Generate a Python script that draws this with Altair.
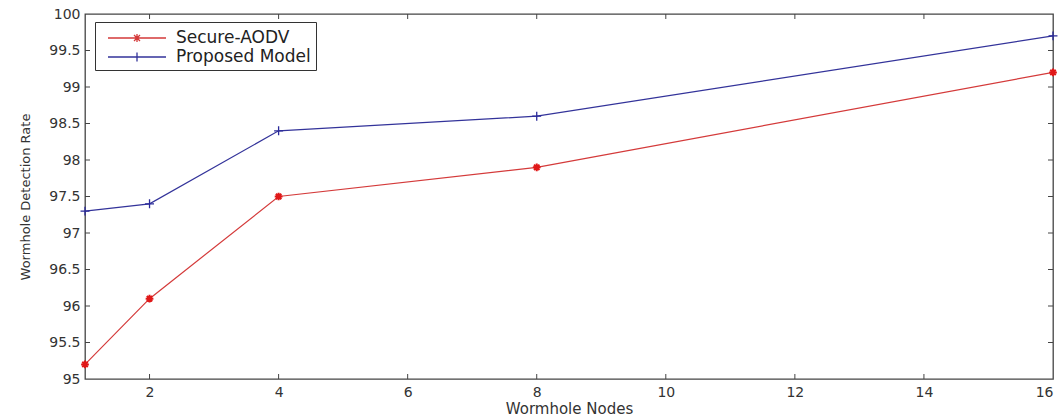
import altair as alt
import pandas as pd

nodes = [1, 2, 4, 8, 16]
secure_aodv = [95.2, 96.1, 97.5, 97.9, 99.2]
proposed = [97.3, 97.4, 98.4, 98.6, 99.7]
series_names = ["Secure-AODV", "Proposed Model"]
series_colors = ["#d43a3a", "#33339a"]
x_ticks = [2, 4, 6, 8, 10, 12, 14, 16]
x_inner_ticks = [2, 4, 6, 8, 10, 12, 14]
y_ticks = [95, 95.5, 96, 96.5, 97, 97.5, 98, 98.5, 99, 99.5, 100]
y_inner_ticks = [95.5, 96, 96.5, 97, 97.5, 98, 98.5, 99, 99.5]

rows = []
for n, a, b in zip(nodes, secure_aodv, proposed):
    rows.append({"nodes": n, "rate": a, "series": series_names[0]})
    rows.append({"nodes": n, "rate": b, "series": series_names[1]})
df = pd.DataFrame(rows)
df_xt = pd.DataFrame({"nodes": x_inner_ticks})
df_yt = pd.DataFrame({"rate": y_inner_ticks})

W, H = 968, 365
FONT = "DejaVu Sans"

xscale = alt.Scale(domain=[1, 16], nice=False, zero=False)
yscale = alt.Scale(domain=[95, 100], nice=False, zero=False)

x_axis = alt.Axis(values=x_ticks, format="d", ticks=False, domain=False, grid=False,
                  labelPadding=6, labelFontSize=14, labelFont=FONT,
                  labelColor="#333333", title="Wormhole Nodes",
                  titleFont=FONT, titleFontSize=15, titleFontWeight="normal",
                  titleColor="#333333", titlePadding=2)
y_axis = alt.Axis(values=y_ticks, format=".1~f", ticks=False, domain=False,
                  grid=False, labelPadding=5, labelFontSize=14, labelFont=FONT,
                  labelColor="#333333", title="Wormhole Detection Rate",
                  titleFont=FONT, titleFontSize=13, titleFontWeight="normal",
                  titleColor="#333333", titlePadding=16)

X = alt.X("nodes:Q", scale=xscale, axis=x_axis)
Y = alt.Y("rate:Q", scale=yscale, axis=y_axis)

color_scale = alt.Scale(domain=series_names, range=series_colors)

leg = alt.Legend(title=None, orient="none", legendX=10, legendY=8,
                 strokeColor="#333333", fillColor="white",
                 padding=5, symbolSize=400, symbolStrokeWidth=1.3,
                 symbolOffset=26, symbolOpacity=1, labelFont=FONT, labelFontSize=17,
                 labelColor="#222222", labelOffset=28, rowPadding=0)

lines = alt.Chart(df).mark_line(strokeWidth=1.2).encode(
    x=X, y=Y,
    color=alt.Color("series:N", scale=color_scale, legend=leg),
)

star_path = "M-1,0H1M0,-1V1M-0.7,-0.7L0.7,0.7M-0.7,0.7L0.7,-0.7"
plus_path = "M-1,0H1M0,-1V1"

red_pts = alt.Chart(df).transform_filter(
    alt.datum.series == series_names[0]
).mark_point(shape=star_path, size=60, strokeWidth=2, filled=False,
             color="#e01818", opacity=1).encode(x=X, y=Y)
blue_pts = alt.Chart(df).transform_filter(
    alt.datum.series == series_names[1]
).mark_point(shape=plus_path, size=80, strokeWidth=1.3, filled=False,
             color="#2a2a9a", opacity=1).encode(x=X, y=Y)

leg_star = "M-2.9,0H2.9M0,-0.4V0.4M-0.3,-0.3L0.3,0.3M-0.3,0.3L0.3,-0.3M-0.4,0H0.4"
leg_plus = "M-2.9,0H2.9M0,-0.45V0.45"
legend_layer = alt.Chart(df).mark_point(filled=False, opacity=0).encode(
    x=X, y=Y,
    color=alt.Color("series:N", scale=color_scale, legend=leg),
    shape=alt.Shape("series:N", scale=alt.Scale(domain=series_names,
                                                range=[leg_star, leg_plus]),
                    legend=leg),
)

tick_len = 5
xt_bottom = alt.Chart(df_xt).mark_rule(color="#444444").encode(
    x=X, y=alt.value(H), y2=alt.value(H - tick_len))
xt_top = alt.Chart(df_xt).mark_rule(color="#444444").encode(
    x=X, y=alt.value(0), y2=alt.value(tick_len))
yt_left = alt.Chart(df_yt).mark_rule(color="#444444").encode(
    y=Y, x=alt.value(0), x2=alt.value(tick_len))
yt_right = alt.Chart(df_yt).mark_rule(color="#444444").encode(
    y=Y, x=alt.value(W), x2=alt.value(W - tick_len))

chart = alt.layer(
    lines, red_pts, blue_pts, legend_layer, xt_bottom, xt_top, yt_left, yt_right
).properties(
    width=W, height=H,
    autosize=alt.AutoSizeParams(type="none"),
    padding={"left": 85, "top": 14, "right": 10, "bottom": 40},
    background="white",
).configure_view(stroke="#444444", strokeWidth=1.3)

chart.save("out.html", embed_options={"renderer": "svg", "actions": False})
